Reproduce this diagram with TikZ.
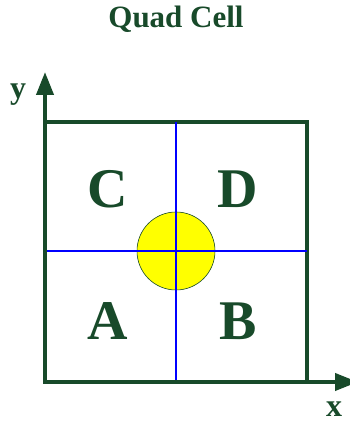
\documentclass[tikz,border=0pt]{standalone}
\usepackage{fontspec}
\setmainfont{Liberation Serif}
\usetikzlibrary{arrows.meta}
\definecolor{cellgreen}{RGB}{24,74,42}
\definecolor{spotyellow}{RGB}{255,255,0}
\tikzset{
  quadlabel/.style={font=\fontsize{56}{60}\selectfont\bfseries,text=cellgreen,inner sep=0pt},
  axislabel/.style={font=\fontsize{32}{34}\selectfont\bfseries,text=cellgreen,inner sep=0pt},
  axisline/.style={line width=4pt,cellgreen,-{Triangle[length=23pt,width=17pt]}},
  splitline/.style={line width=1.6pt,blue}
}
\begin{document}
\begin{tikzpicture}[x=1pt,y=1pt]
\useasboundingbox (0,0) rectangle (349,425);

\coordinate (O) at (45,43);
\coordinate (ytip) at (45,353);
\coordinate (xtip) at (358,43);
\coordinate (sw) at (45,43);
\coordinate (ne) at (307,303);

% cell outline
\draw[line width=4pt,cellgreen] (sw) rectangle (ne);

% spot
\fill[spotyellow,draw=cellgreen,line width=0.6pt] (176,174) circle (39);

% quadrant split
\coordinate (vt) at (176,303);
\coordinate (vb) at (176,43);
\coordinate (hl) at (45,174);
\coordinate (hr) at (307,174);
\draw[splitline] (vb) -- (vt);
\draw[splitline] (hl) -- (hr);

% axes
\draw[axisline] (O) -- (ytip);
\draw[axisline] (O) -- (xtip);

\node[quadlabel] (C) at (108,236) {C};
\node[quadlabel] (D) at (238,236) {D};
\node[quadlabel] (A) at (108,104) {A};
\node[quadlabel] (B) at (238,104) {B};

\node[axislabel] (ylab) at (18,330) {y};
\node[axislabel] (xlab) at (334,16) {x};
\node[font=\fontsize{31}{34}\selectfont\bfseries,text=cellgreen,inner sep=0pt] (title) at (176,406) {Quad Cell};
\end{tikzpicture}
\end{document}
